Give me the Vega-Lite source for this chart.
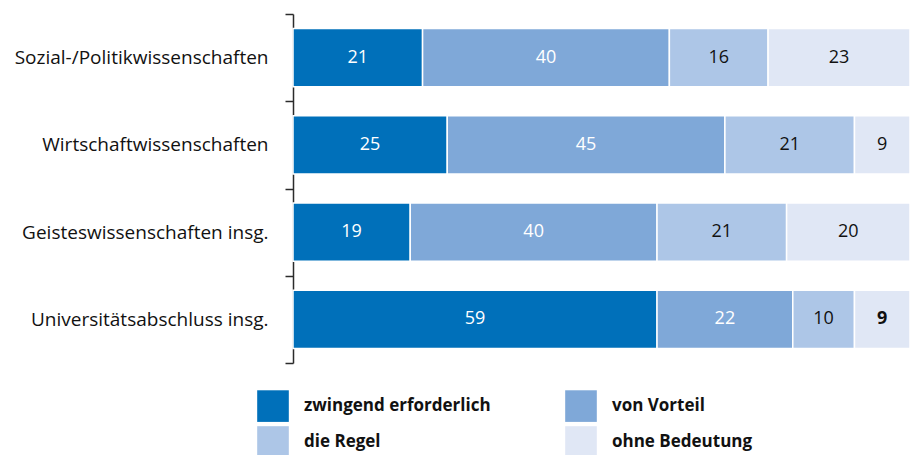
{
  "$schema": "https://vega.github.io/schema/vega-lite/v6.json",
  "width": 617,
  "height": 349,
  "autosize": "none",
  "padding": {"left": 293, "top": 14, "right": 0, "bottom": 92},
  "background": "white",
  "config": {"view": {"stroke": null}, "font": "Open Sans"},
  "data": {
    "values": [
      {"cat": "Sozial-/Politikwissenschaften", "series": "zwingend erforderlich", "rank": 1, "value": 21},
      {"cat": "Sozial-/Politikwissenschaften", "series": "von Vorteil", "rank": 2, "value": 40},
      {"cat": "Sozial-/Politikwissenschaften", "series": "die Regel", "rank": 3, "value": 16},
      {"cat": "Sozial-/Politikwissenschaften", "series": "ohne Bedeutung", "rank": 4, "value": 23},
      {"cat": "Wirtschaftwissenschaften", "series": "zwingend erforderlich", "rank": 1, "value": 25},
      {"cat": "Wirtschaftwissenschaften", "series": "von Vorteil", "rank": 2, "value": 45},
      {"cat": "Wirtschaftwissenschaften", "series": "die Regel", "rank": 3, "value": 21},
      {"cat": "Wirtschaftwissenschaften", "series": "ohne Bedeutung", "rank": 4, "value": 9},
      {"cat": "Geisteswissenschaften insg.", "series": "zwingend erforderlich", "rank": 1, "value": 19},
      {"cat": "Geisteswissenschaften insg.", "series": "von Vorteil", "rank": 2, "value": 40},
      {"cat": "Geisteswissenschaften insg.", "series": "die Regel", "rank": 3, "value": 21},
      {"cat": "Geisteswissenschaften insg.", "series": "ohne Bedeutung", "rank": 4, "value": 20},
      {"cat": "Universitätsabschluss insg.", "series": "zwingend erforderlich", "rank": 1, "value": 59},
      {"cat": "Universitätsabschluss insg.", "series": "von Vorteil", "rank": 2, "value": 22},
      {"cat": "Universitätsabschluss insg.", "series": "die Regel", "rank": 3, "value": 10},
      {"cat": "Universitätsabschluss insg.", "series": "ohne Bedeutung", "rank": 4, "value": 9}
    ]
  },
  "transform": [
    {"stack": "value", "groupby": ["cat"], "sort": [{"field": "rank", "order": "ascending"}], "as": ["x0", "x1"]},
    {"calculate": "(datum.x0 + datum.x1) / 2", "as": "mid"}
  ],
  "encoding": {
    "y": {
      "field": "cat",
      "type": "nominal",
      "sort": null,
      "title": null,
      "scale": {"paddingInner": 0, "paddingOuter": 0},
      "axis": {
        "tickBand": "extent",
        "domainColor": "#2b2b2b",
        "domainWidth": 1.5,
        "tickColor": "#2b2b2b",
        "tickWidth": 1.5,
        "tickSize": 8,
        "labelPadding": 17,
        "labelFontSize": 19,
        "labelColor": "#111111",
        "labelFont": "Open Sans",
        "labelLimit": 400
      }
    }
  },
  "layer": [
    {
      "mark": {"type": "bar", "stroke": "white", "strokeWidth": 1.5, "height": {"band": 0.665}},
      "encoding": {
        "x": {"field": "x0", "type": "quantitative", "scale": {"domain": [0, 100], "nice": false}, "axis": null},
        "x2": {"field": "x1"},
        "color": {
          "field": "series",
          "type": "nominal",
          "sort": ["zwingend erforderlich", "von Vorteil", "die Regel", "ohne Bedeutung"],
          "scale": {
            "domain": ["zwingend erforderlich", "von Vorteil", "die Regel", "ohne Bedeutung"],
            "range": ["#0070BA", "#7FA8D8", "#ADC6E7", "#E0E7F5"]
          },
          "legend": {
            "title": null,
            "orient": "none",
            "direction": "horizontal",
            "legendX": -36,
            "legendY": 376,
            "columns": 2,
            "columnPadding": 74,
            "rowPadding": 4,
            "padding": 0,
            "symbolType": "square",
            "symbolSize": 1000,
            "symbolStrokeWidth": 0,
            "symbolOpacity": 1,
            "labelFontSize": 17,
            "labelFontWeight": "bold",
            "labelColor": "#111111",
            "labelOffset": 15,
            "labelLimit": 400,
            "labelFont": "Open Sans"
          }
        }
      }
    },
    {
      "transform": [{"filter": "!(datum.cat == 'Universitätsabschluss insg.' && datum.rank == 4)"}],
      "mark": {"type": "text", "fontSize": 18, "font": "Open Sans", "fontWeight": 500, "baseline": "middle", "align": "center"},
      "encoding": {
        "x": {"field": "mid", "type": "quantitative"},
        "text": {"field": "value", "type": "quantitative"},
        "color": {"condition": {"test": "datum.rank <= 2", "value": "white"}, "value": "#111111"}
      }
    },
    {
      "transform": [{"filter": "datum.cat == 'Universitätsabschluss insg.' && datum.rank == 4"}],
      "mark": {"type": "text", "fontSize": 18, "font": "Open Sans", "fontWeight": "bold", "baseline": "middle", "align": "center", "color": "#111111"},
      "encoding": {
        "x": {"field": "mid", "type": "quantitative"},
        "text": {"field": "value", "type": "quantitative"}
      }
    }
  ]
}
